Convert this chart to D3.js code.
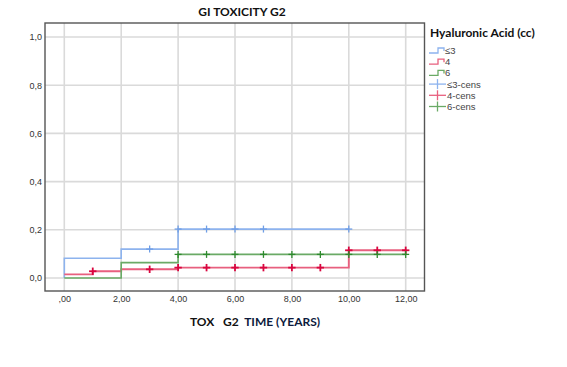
<!DOCTYPE html>
<html>
<head>
<meta charset="utf-8">
<script src="https://cdn.jsdelivr.net/npm/d3@7"></script>
<style>
body { margin: 0; background: #fff; }
text { font-family: "Liberation Sans", Arial, sans-serif; }
</style>
</head>
<body>
<svg id="chart" width="567" height="367"></svg>
<script>
// step values: [time, cumulative incidence] (value holds from this time on)
var steps_le3 = [[0, 0], [0, 0.082], [2, 0.12], [4, 0.203], [10, 0.203]];
var steps_4 = [[0, 0.015], [1, 0.028], [2, 0.036], [4, 0.043], [10, 0.115], [12, 0.115]];
var steps_6 = [[0, 0], [2, 0.064], [4, 0.098], [12, 0.098]];

var cens_le3 = [[3, 0.12], [4, 0.203], [5, 0.203], [6, 0.203], [7, 0.203], [10, 0.203]];
var cens_4 = [[1, 0.028], [3, 0.036], [4, 0.043], [5, 0.043], [6, 0.043], [7, 0.043], [8, 0.043], [9, 0.043], [10, 0.115], [11, 0.115], [12, 0.115]];
var cens_6 = [[4, 0.098], [5, 0.098], [6, 0.098], [7, 0.098], [8, 0.098], [9, 0.098], [10, 0.098], [11, 0.098], [12, 0.098]];

var xTicks = [0, 2, 4, 6, 8, 10, 12];
var yTicks = [0, 0.2, 0.4, 0.6, 0.8, 1.0];
var groups = ["≤3", "4", "6"];
var lineColors = ["#8db3ee", "#e8607f", "#6aaa66"];
var markColors = ["#6f9ee6", "#d9063f", "#2e8a2e"];

var svg = d3.select("#chart");

var x = d3.scaleLinear().domain([0, 12]).range([64.3, 405.7]);
var y = d3.scaleLinear().domain([0, 1]).range([278, 37]);

// grid
svg.append("g").selectAll("line").data(xTicks).enter().append("line")
    .attr("x1", d => x(d)).attr("x2", d => x(d))
    .attr("y1", 23).attr("y2", 291)
    .attr("stroke", "#dadada").attr("stroke-width", 1.6);
svg.append("g").selectAll("line").data(yTicks).enter().append("line")
    .attr("x1", 45).attr("x2", 424.5)
    .attr("y1", d => y(d)).attr("y2", d => y(d))
    .attr("stroke", "#dadada").attr("stroke-width", 1.6);

// frame
svg.append("rect")
    .attr("x", 45).attr("y", 23).attr("width", 379.5).attr("height", 268)
    .attr("fill", "none").attr("stroke", "#555").attr("stroke-width", 1.4);

// axes (labels only)
var fmtX = d => d === 0 ? ",00" : d3.format(".2f")(d).replace(".", ",");
var fmtY = d => d3.format(".1f")(d).replace(".", ",");

var axisX = d3.axisBottom(x).tickValues(xTicks).tickFormat(fmtX).tickSize(0).tickPadding(5);
var gx = svg.append("g").attr("transform", "translate(0,291)").call(axisX);
gx.select(".domain").remove();
gx.selectAll("text").attr("font-size", 9).attr("fill", "#333")
    .style("font-family", "'Liberation Sans', Arial, sans-serif");

var axisY = d3.axisLeft(y).tickValues(yTicks).tickFormat(fmtY).tickSize(0).tickPadding(3);
var gy = svg.append("g").attr("transform", "translate(45,0)").call(axisY);
gy.select(".domain").remove();
gy.selectAll("text").attr("font-size", 9).attr("fill", "#333")
    .style("font-family", "'Liberation Sans', Arial, sans-serif");

// step lines
var line = d3.line().x(d => x(d[0])).y(d => y(d[1])).curve(d3.curveStepAfter);
[steps_le3, steps_4, steps_6].forEach(function(s, i) {
    svg.append("path").datum(s)
        .attr("d", line)
        .attr("fill", "none")
        .attr("stroke", lineColors[i])
        .attr("stroke-width", i === 1 ? 1.9 : 1.6);
});

// censor marks
[cens_le3, cens_4, cens_6].forEach(function(c, i) {
    var g = svg.append("g");
    var sw = i === 1 ? 1.8 : 1.3;
    var hw = i === 1 ? 3.7 : 3.5;
    g.selectAll(".h").data(c).enter().append("line")
        .attr("x1", d => x(d[0]) - hw).attr("x2", d => x(d[0]) + hw)
        .attr("y1", d => y(d[1])).attr("y2", d => y(d[1]))
        .attr("stroke", markColors[i]).attr("stroke-width", sw);
    g.selectAll(".v").data(c).enter().append("line")
        .attr("x1", d => x(d[0])).attr("x2", d => x(d[0]))
        .attr("y1", d => y(d[1]) - hw).attr("y2", d => y(d[1]) + hw)
        .attr("stroke", markColors[i]).attr("stroke-width", sw);
});

// title
svg.append("text")
    .attr("x", 242).attr("y", 16)
    .attr("text-anchor", "middle")
    .attr("font-size", 12).attr("font-weight", "bold")
    .style("font-family", "Lato, 'Open Sans', sans-serif")
    .attr("fill", "#111")
    .text("GI TOXICITY G2");

// x axis title
var xt = svg.append("text")
    .attr("x", 255).attr("y", 326)
    .attr("text-anchor", "middle")
    .attr("font-size", 12).attr("font-weight", "bold")
    .style("font-family", "Lato, 'Open Sans', sans-serif")
    .style("white-space", "pre");
xt.append("tspan").attr("fill", "#111").text("TOX   G2  ");
xt.append("tspan").attr("fill", "#0d1a3d").text("TIME (YEARS)");

// legend
svg.append("text")
    .attr("x", 430).attr("y", 37)
    .attr("font-size", 12).attr("font-weight", "bold")
    .style("font-family", "Lato, 'Open Sans', sans-serif")
    .attr("fill", "#111")
    .text("Hyaluronic Acid (cc)");

var legendLabels = groups.concat(groups.map(g => g + "-cens"));
var rowY = d3.scaleLinear().domain([0, 5]).range([50.5, 106.5]);
legendLabels.forEach(function(lbl, i) {
    var cy = rowY(i);
    var ci = i % 3;
    var g = svg.append("g");
    if (i < 3) {
        g.append("path")
            .attr("d", "M429," + (cy + 2.5) + "H438V" + (cy - 2.5) + "H444V" + (cy + 0.5))
            .attr("fill", "none").attr("stroke", lineColors[ci]).attr("stroke-width", 1.3);
    } else {
        g.append("line").attr("x1", 429).attr("x2", 446).attr("y1", cy).attr("y2", cy)
            .attr("stroke", lineColors[ci]).attr("stroke-width", 1.3);
        g.append("line").attr("x1", 437.5).attr("x2", 437.5).attr("y1", cy - 5).attr("y2", cy + 5)
            .attr("stroke", lineColors[ci]).attr("stroke-width", 1.3);
    }
    g.append("text")
        .attr("x", i < 3 ? 445 : 447).attr("y", cy + 3.5)
        .attr("font-size", 9.5).attr("fill", "#444")
        .text(lbl);
});
</script>
</body>
</html>
